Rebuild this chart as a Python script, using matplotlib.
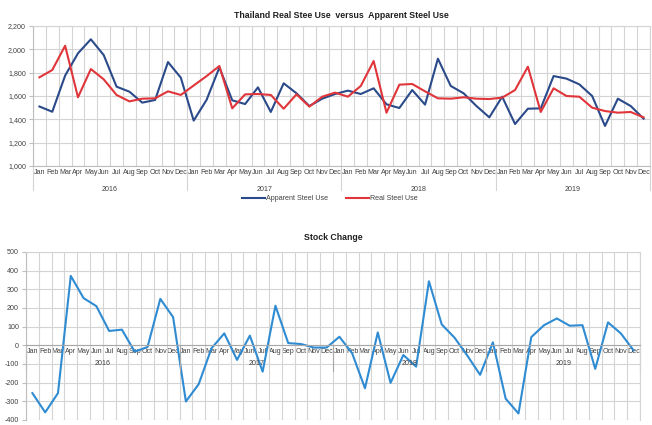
import numpy as np
import matplotlib
matplotlib.use("Agg")
import matplotlib.pyplot as plt
import matplotlib.transforms as mtransforms
from matplotlib.ticker import FuncFormatter, MultipleLocator

plt.rcParams['font.family'] = ['Liberation Sans', 'DejaVu Sans']
plt.rcParams['axes.unicode_minus'] = False

months = ["Jan", "Feb", "Mar", "Apr", "May", "Jun", "Jul", "Aug", "Sep", "Oct", "Nov", "Dec"]
years = ["2016", "2017", "2018", "2019"]

apparent = [1510, 1465, 1775, 1966, 2086, 1951, 1680, 1637, 1543, 1566, 1891, 1757,
            1389, 1566, 1845, 1563, 1531, 1674, 1463, 1709, 1623, 1514, 1577, 1617,
            1646, 1617, 1666, 1529, 1497, 1651, 1526, 1920, 1686, 1623, 1514, 1417,
            1594, 1360, 1491, 1494, 1771, 1749, 1700, 1600, 1343, 1577, 1514, 1406]
real = [1760, 1823, 2031, 1589, 1831, 1743, 1609, 1554, 1577, 1580, 1640, 1609,
        1690, 1770, 1857, 1494, 1614, 1617, 1609, 1491, 1614, 1509, 1594, 1629,
        1594, 1686, 1900, 1457, 1697, 1703, 1640, 1580, 1577, 1589, 1577, 1574,
        1586, 1651, 1851, 1463, 1666, 1600, 1594, 1500, 1471, 1457, 1463, 1417]
stock = [-256, -359, -256, 372, 253, 210, 77, 84, -34, -9, 249, 151,
         -301, -208, -16, 64, -78, 52, -141, 212, 12, 7, -12, -12,
         46, -43, -230, 69, -201, -52, -114, 343, 112, 41, -55, -158,
         16, -286, -365, 44, 108, 144, 105, 108, -126, 123, 64, -27]

n = len(apparent)
x = np.arange(n)
labels = months * len(years)

W, H = 652, 425
fig = plt.figure(figsize=(W / 100, H / 100), dpi=100)

grid_c = '#d4d4d4'
axis_c = '#bdbdbd'
txt_c = '#404040'
fs = 5.1


def style_axis(ax):
    ax.set_xlim(-0.5, n - 0.5)
    ax.set_xticks(x)
    ax.set_xticklabels(labels)
    ax.set_xticks(np.arange(-0.5, n, 1.0), minor=True)
    ax.tick_params(axis='x', which='both', length=0, pad=2, labelsize=fs, labelcolor=txt_c)
    ax.tick_params(axis='y', length=3, color=axis_c, labelsize=fs, labelcolor=txt_c, pad=2)
    ax.grid(True, which='minor', axis='x', color=grid_c, lw=0.8)
    ax.grid(True, which='major', axis='y', color=grid_c, lw=0.8)
    ax.grid(False, which='major', axis='x')
    ax.set_axisbelow(True)
    for s in ax.spines.values():
        s.set_color(grid_c)
        s.set_linewidth(0.8)
    ax.spines['left'].set_color(axis_c)
    ax.spines['bottom'].set_color(axis_c)


# ---------------- Top chart ----------------
ax1 = fig.add_axes([33 / W, 1 - 166 / H, (650 - 33) / W, (166 - 26) / H])
ax1.plot(x, apparent, color='#2B4A8A', lw=1.5, label='Apparent Steel Use')
ax1.plot(x, real, color='#E0353A', lw=1.5, label='Real Steel Use')
ax1.set_ylim(1000, 2200)
ax1.yaxis.set_major_locator(MultipleLocator(200))
ax1.yaxis.set_major_formatter(FuncFormatter(lambda v, p: f"{int(v):,}"))
style_axis(ax1)
ax1.set_title("Thailand Real Stee Use  versus  Apparent Steel Use", fontsize=6.3,
              fontweight='bold', color='#202020', pad=6)

tr1 = mtransforms.blended_transform_factory(ax1.transData, ax1.transAxes)
for i, yr in enumerate(years):
    ax1.text(12 * i + 5.5, -0.145, yr, transform=tr1, ha='center', va='top',
             fontsize=fs, color=txt_c)
for b in [-0.5, 11.5, 23.5, 35.5, 47.5]:
    ax1.plot([b, b], [0, -0.17], transform=tr1, color=grid_c, lw=0.8, clip_on=False)

fig.legend(loc='center', bbox_to_anchor=(330 / W, 1 - 199 / H), ncol=2, frameon=False,
           fontsize=fs, handlelength=3.2, columnspacing=2.5, handletextpad=0.2,
           labelcolor=txt_c)

# ---------------- Bottom chart ----------------
ax2 = fig.add_axes([26 / W, 1 - 420 / H, (640 - 26) / W, (420 - 252) / H])
ax2.plot(x, stock, color='#2F8BD2', lw=1.5)
ax2.set_ylim(-400, 500)
ax2.yaxis.set_major_locator(MultipleLocator(100))
ax2.spines['bottom'].set_position(('data', 0))
style_axis(ax2)
ax2.spines['bottom'].set_color('#a8a8a8')
ax2.set_title("Stock Change", fontsize=6.3, fontweight='bold', color='#202020', pad=9)

tr2 = mtransforms.blended_transform_factory(ax2.transData, ax2.transAxes)
y0 = 400 / 900
for i, yr in enumerate(years):
    ax2.text(12 * i + 5.5, y0 - 0.085, yr, transform=tr2, ha='center', va='top',
             fontsize=fs, color=txt_c)
for b in [-0.5, 11.5, 23.5, 35.5, 47.5]:
    ax2.plot([b, b], [y0, y0 - 0.15], transform=tr2, color='#a8a8a8', lw=0.8, clip_on=False)

fig.savefig("out.png", dpi=100, facecolor='white')
